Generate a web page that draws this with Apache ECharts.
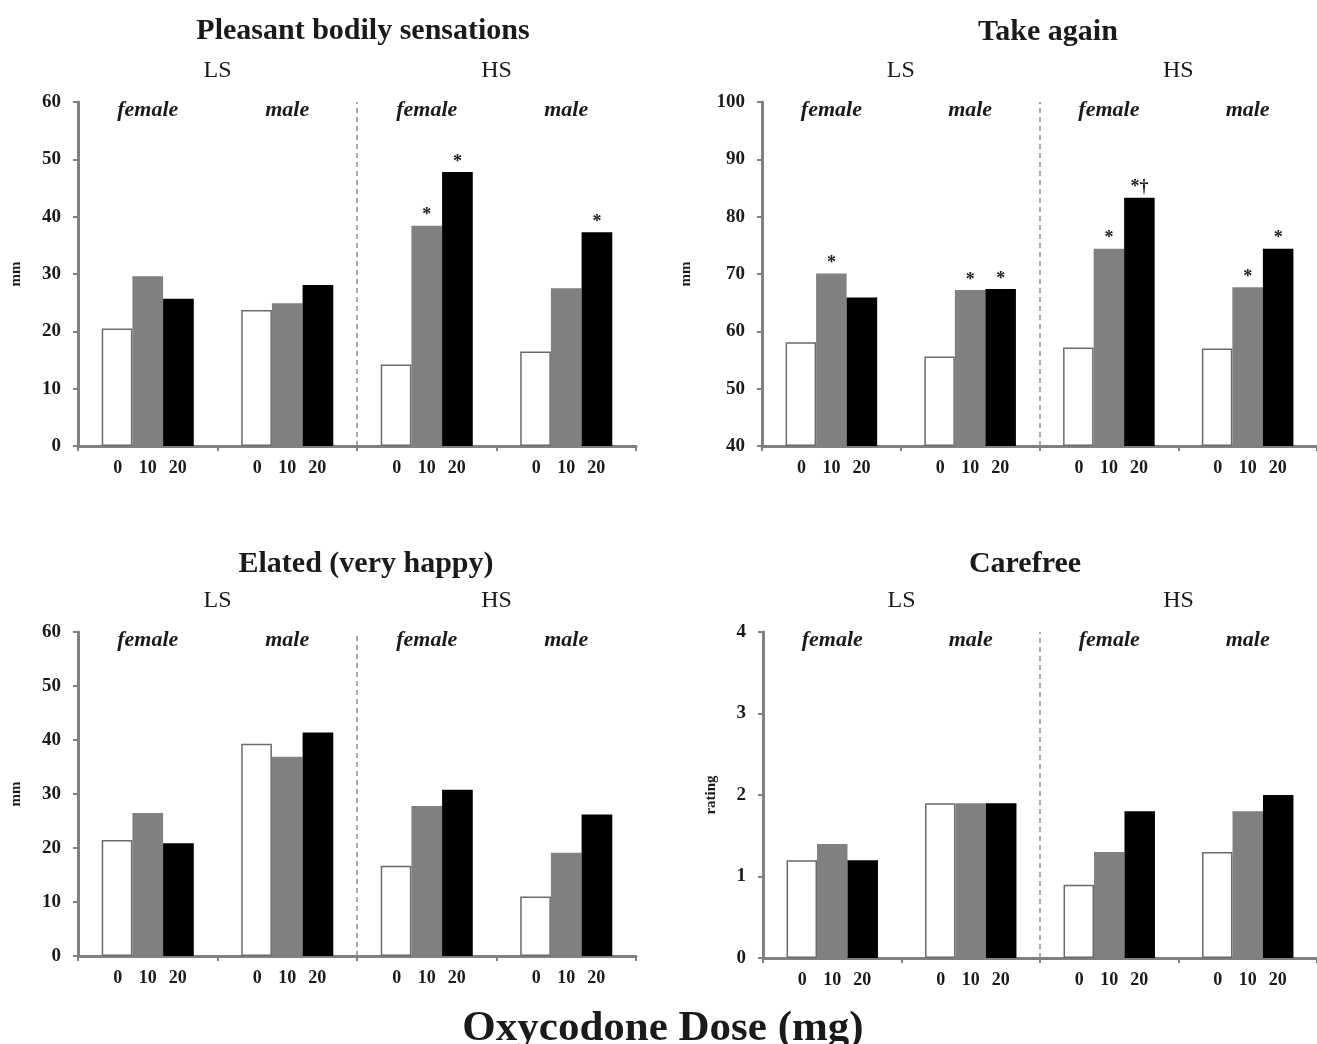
<!DOCTYPE html>
<html>
<head>
<meta charset="utf-8">
<script src="https://cdn.jsdelivr.net/npm/echarts@6/dist/echarts.min.js"></script>
<style>
  html, body { margin: 0; padding: 0; background: #fff; }
  #chart { width: 1317px; height: 1044px; }
</style>
</head>
<body>
<div id="chart"></div>
<script>
// groups on the x axis (sensation seeking x sex) and oxycodone doses
const groups = ['LS female', 'LS male', 'HS female', 'HS male'];
const doses = ['0', '10', '20'];
const sexLabels = ['female', 'male', 'female', 'male'];
const seekLabels = ['LS', 'HS'];

// Pleasant bodily sensations (mm)
const pleasant0 = [20.5, 23.7, 14.2, 16.5];
const pleasant10 = [29.6, 24.9, 38.4, 27.5];
const pleasant20 = [25.7, 28.1, 47.8, 37.3];
const pleasantSig10 = ['', '', '*', ''];
const pleasantSig20 = ['', '', '*', '*'];

// Take again (mm)
const takeAgain0 = [58.1, 55.6, 57.2, 57.0];
const takeAgain10 = [70.1, 67.2, 74.4, 67.7];
const takeAgain20 = [65.9, 67.4, 83.3, 74.4];
const takeAgainSig10 = ['*', '*', '*', '*'];
const takeAgainSig20 = ['', '*', '*†', '*'];

// Elated (very happy) (mm)
const elated0 = [21.5, 39.3, 16.7, 11.0];
const elated10 = [26.5, 36.9, 27.8, 19.1];
const elated20 = [20.9, 41.4, 30.8, 26.2];

// Carefree (rating)
const carefree0 = [1.2, 1.9, 0.9, 1.3];
const carefree10 = [1.4, 1.9, 1.3, 1.8];
const carefree20 = [1.2, 1.9, 1.8, 2.0];

const serif = "'Liberation Serif', 'Times New Roman', serif";
const axisGray = '#808080';
const textColor = '#1a1a1a';
const barColors = ['#ffffff', '#808080', '#000000'];

const panels = [
  {
    title: 'Pleasant bodily sensations', titleX: 358, titleY: 11,
    yName: 'mm', nameGap: 54, min: 0, max: 60, step: 10,
    values: [pleasant0, pleasant10, pleasant20],
    sig: [null, pleasantSig10, pleasantSig20],
    grid: { left: 78, top: 102, width: 558, height: 344 }
  },
  {
    title: 'Take again', titleX: 1043, titleY: 12,
    yName: 'mm', nameGap: 68, min: 40, max: 100, step: 10,
    values: [takeAgain0, takeAgain10, takeAgain20],
    sig: [null, takeAgainSig10, takeAgainSig20],
    grid: { left: 762, top: 102, width: 558, height: 344 }
  },
  {
    title: 'Elated (very happy)', titleX: 361, titleY: 544,
    yName: 'mm', nameGap: 54, min: 0, max: 60, step: 10,
    values: [elated0, elated10, elated20],
    sig: [null, null, null],
    grid: { left: 78, top: 632, width: 558, height: 324 }
  },
  {
    title: 'Carefree', titleX: 1020, titleY: 544,
    yName: 'rating', nameGap: 44, min: 0, max: 4, step: 1,
    values: [carefree0, carefree10, carefree20],
    sig: [null, null, null],
    grid: { left: 763, top: 632, width: 558, height: 326 }
  }
];

const chart = echarts.init(document.getElementById('chart'));

const titles = [];
const grids = [];
const xAxes = [];
const yAxes = [];
const series = [];

panels.forEach((p, i) => {
  titles.push({
    text: p.title,
    left: p.titleX,
    top: p.titleY,
    textAlign: 'center',
    textStyle: { fontFamily: serif, fontWeight: 'bold', fontSize: 30, color: textColor }
  });
  grids.push(p.grid);

  // bar axis with dose labels under each bar
  xAxes.push({
    gridIndex: i,
    type: 'category',
    data: groups,
    position: 'bottom',
    axisLine: { lineStyle: { color: axisGray, width: 3 } },
    axisTick: { show: true, length: 5, lineStyle: { color: axisGray, width: 2 } },
    axisLabel: {
      margin: 13,
      formatter: () => doses.map(d => '{d|' + d + '}').join(''),
      rich: {
        d: { width: 30, align: 'center', fontFamily: serif, fontWeight: 'bold', fontSize: 18, color: textColor }
      }
    }
  });
  // female / male
  xAxes.push({
    gridIndex: i,
    type: 'category',
    data: sexLabels,
    position: 'top',
    axisLine: { show: false },
    axisTick: { show: false },
    axisLabel: {
      inside: true,
      margin: -3,
      fontFamily: serif, fontStyle: 'italic', fontWeight: 'bold', fontSize: 22, color: textColor
    }
  });
  // LS / HS
  xAxes.push({
    gridIndex: i,
    type: 'category',
    data: seekLabels,
    position: 'top',
    axisLine: { show: false },
    axisTick: { show: false },
    axisLabel: { margin: 19, fontFamily: serif, fontSize: 24, color: textColor }
  });
  // hidden axis for the LS | HS separator
  xAxes.push({ gridIndex: i, type: 'value', min: 0, max: 4, show: false });

  yAxes.push({
    gridIndex: i,
    type: 'value',
    min: p.min,
    max: p.max,
    interval: p.step,
    startValue: p.min,
    name: p.yName,
    nameLocation: 'middle',
    nameGap: p.nameGap,
    nameTextStyle: { fontFamily: serif, fontWeight: 'bold', fontSize: 15, color: textColor },
    axisLine: { show: true, lineStyle: { color: axisGray, width: 3 } },
    axisTick: { show: true, length: 5, lineStyle: { color: axisGray, width: 2 } },
    axisLabel: { margin: 17, fontFamily: serif, fontWeight: 'bold', fontSize: 19, color: textColor },
    splitLine: { show: false }
  });

  p.values.forEach((vals, k) => {
    const sig = p.sig[k];
    series.push({
      type: 'bar',
      name: doses[k] + ' mg',
      xAxisIndex: i * 4,
      yAxisIndex: i,
      data: vals,
      barGap: '0%',
      barCategoryGap: '34%',
      silent: true,
      itemStyle: {
        color: barColors[k],
        borderColor: k === 0 ? '#6a6a6a' : barColors[k],
        borderWidth: k === 0 ? 1.5 : 0
      },
      label: sig ? {
        show: true,
        position: 'top',
        distance: 1,
        formatter: (prm) => sig[prm.dataIndex],
        fontFamily: serif, fontWeight: 'bold', fontSize: 18, color: textColor
      } : { show: false }
    });
  });

  series.push({
    type: 'line',
    xAxisIndex: i * 4 + 3,
    yAxisIndex: i,
    data: [],
    markLine: {
      silent: true,
      symbol: ['none', 'none'],
      label: { show: false },
      lineStyle: { type: [5, 4], color: '#8c8c8c', width: 1.5 },
      data: [{ xAxis: 2 }]
    }
  });
});

titles.push({
  text: 'Oxycodone Dose (mg)',
  left: 658,
  top: 1002,
  textAlign: 'center',
  textStyle: { fontFamily: serif, fontWeight: 'bold', fontSize: 43, color: textColor }
});

const option = {
  backgroundColor: '#ffffff',
  animation: false,
  title: titles,
  grid: grids,
  xAxis: xAxes,
  yAxis: yAxes,
  series: series
};

chart.setOption(option);
</script>
</body>
</html>
